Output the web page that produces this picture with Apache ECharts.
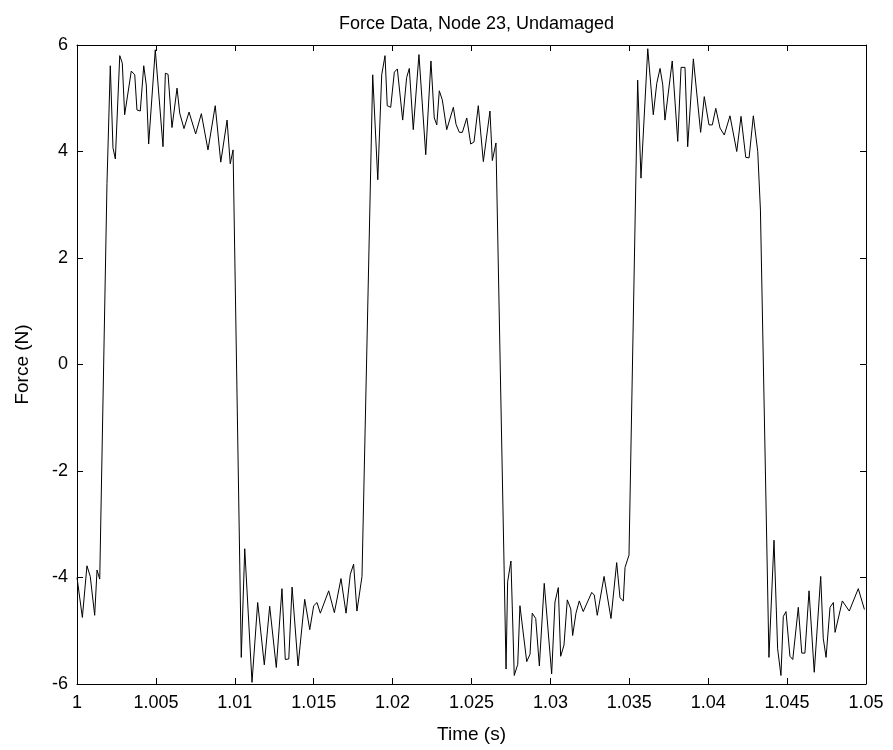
<!DOCTYPE html>
<html>
<head>
<meta charset="utf-8">
<script src="https://cdn.jsdelivr.net/npm/echarts@6/dist/echarts.min.js"></script>
<style>html,body{margin:0;padding:0;background:#fff}#c{width:893px;height:750px}</style>
</head>
<body>
<div id="c"></div>
<script>
const chartTitle = "Force Data, Node 23, Undamaged";
const xName = "Time (s)";
const yName = "Force (N)";
const xTicks = [1, 1.005, 1.01, 1.015, 1.02, 1.025, 1.03, 1.035, 1.04, 1.045, 1.05];
const yTicks = [-6, -4, -2, 0, 2, 4, 6];

// vertex times (s) and forces (N)
const times = [
  1.00000, 1.00034, 1.00063, 1.00084, 1.00112, 1.00127, 1.00144, 1.00190, 1.00211,
  1.00228, 1.00243, 1.00271, 1.00287, 1.00302, 1.00344, 1.00366, 1.00380, 1.00401, 1.00423,
  1.00439, 1.00454, 1.00496, 1.00545, 1.00560, 1.00577, 1.00602, 1.00634, 1.00651, 1.00678,
  1.00710, 1.00752, 1.00788, 1.00830, 1.00876, 1.00911, 1.00951, 1.00971, 1.00989,
  1.01041, 1.01063, 1.01109, 1.01145, 1.01187, 1.01221, 1.01263, 1.01299, 1.01320, 1.01342,
  1.01363, 1.01401, 1.01443, 1.01475, 1.01500, 1.01521, 1.01542, 1.01595, 1.01631, 1.01673,
  1.01705, 1.01732, 1.01753, 1.01774, 1.01806,
  1.01874, 1.01906, 1.01931, 1.01952, 1.01966, 1.01988, 1.02011, 1.02030, 1.02064, 1.02089,
  1.02106, 1.02131, 1.02167, 1.02210, 1.02243, 1.02264, 1.02280, 1.02296, 1.02315, 1.02343,
  1.02385, 1.02402, 1.02423, 1.02442, 1.02470, 1.02495, 1.02516, 1.02543, 1.02575, 1.02617,
  1.02632, 1.02655,
  1.02719, 1.02729, 1.02750, 1.02771, 1.02793, 1.02807, 1.02850, 1.02871, 1.02885, 1.02907,
  1.02930, 1.02961, 1.03008, 1.03029, 1.03050, 1.03065, 1.03086, 1.03107, 1.03129, 1.03141,
  1.03162, 1.03183, 1.03208, 1.03262, 1.03278, 1.03297, 1.03340, 1.03384, 1.03420, 1.03441,
  1.03462, 1.03473, 1.03498,
  1.03553, 1.03574, 1.03617, 1.03652, 1.03674, 1.03695, 1.03712, 1.03726, 1.03772, 1.03807,
  1.03828, 1.03853, 1.03870, 1.03906, 1.03952, 1.03975, 1.04005, 1.04026, 1.04048, 1.04075,
  1.04102, 1.04138, 1.04181, 1.04208, 1.04238, 1.04259, 1.04286, 1.04314, 1.04331,
  1.04385, 1.04417, 1.04440, 1.04461, 1.04476, 1.04493, 1.04518, 1.04536, 1.04571, 1.04593,
  1.04613, 1.04639, 1.04672, 1.04713, 1.04729, 1.04747, 1.04772, 1.04793, 1.04804, 1.04850,
  1.04894, 1.04951, 1.04990
];
const forces = [
  -4.00, -4.75, -3.78, -3.98, -4.71, -3.86, -4.03, 3.40, 5.61,
  4.07, 3.86, 5.80, 5.66, 4.69, 5.51, 5.44, 4.78, 4.76, 5.61,
  5.25, 4.14, 5.91, 4.09, 5.47, 5.45, 4.45, 5.19, 4.72, 4.43,
  4.74, 4.33, 4.71, 4.03, 4.86, 3.80, 4.59, 3.77, 4.03,
  -5.50, -3.46, -5.97, -4.47, -5.64, -4.54, -5.69, -4.21, -5.54, -5.53,
  -4.18, -5.66, -4.41, -4.98, -4.53, -4.47, -4.67, -4.25, -4.66, -4.02,
  -4.67, -3.94, -3.75, -4.63, -3.98,
  5.44, 3.47, 5.44, 5.80, 4.86, 4.83, 5.49, 5.55, 4.59, 5.39,
  5.56, 4.41, 5.82, 3.94, 5.70, 4.63, 4.50, 5.14, 4.97, 4.41,
  4.83, 4.51, 4.36, 4.36, 4.63, 4.14, 4.18, 4.86, 3.81, 4.76,
  3.83, 4.16,
  -5.72, -4.08, -3.69, -5.84, -5.63, -4.53, -5.58, -5.44, -4.67, -4.77,
  -5.66, -4.11, -5.81, -4.46, -4.19, -5.48, -5.27, -4.42, -4.59, -5.09,
  -4.67, -4.44, -4.64, -4.28, -4.33, -4.71, -3.98, -4.77, -3.72, -4.38,
  -4.44, -3.81, -3.58,
  5.34, 3.50, 5.93, 4.69, 5.28, 5.56, 5.25, 4.59, 5.70, 4.19,
  5.58, 5.58, 4.09, 5.74, 4.36, 5.03, 4.50, 4.50, 4.81, 4.44,
  4.31, 4.67, 4.00, 4.66, 3.89, 3.88, 4.67, 4.00, 2.90,
  -5.50, -3.30, -5.34, -5.84, -4.73, -4.64, -5.48, -5.54, -4.56, -5.42,
  -5.42, -4.25, -5.78, -3.98, -5.14, -5.50, -4.56, -4.47, -5.03, -4.44,
  -4.63, -4.21, -4.60
];

const FONT = "'Liberation Sans', Arial, sans-serif";
const chart = echarts.init(document.getElementById('c'), null, {renderer: 'canvas'});
const fmtX = v => String(parseFloat(v.toFixed(3)));
const common = {
  axisLine: {show: true, onZero: false, lineStyle: {color: '#000', width: 1}},
  axisTick: {show: true, inside: true, length: 6, lineStyle: {color: '#000', width: 1}},
  splitLine: {show: false}
};
chart.setOption({
  animation: false,
  backgroundColor: '#fff',
  title: {
    text: chartTitle, left: 471.5, top: 10, textAlign: 'center',
    textStyle: {fontFamily: FONT, fontSize: 18, fontWeight: 'normal', color: '#000'}
  },
  grid: {left: 77, right: 27, top: 45, bottom: 66, containLabel: false},
  xAxis: [
    Object.assign({
      type: 'value', min: xTicks[0], max: xTicks[xTicks.length - 1], interval: 0.005,
      position: 'bottom',
      name: xName, nameLocation: 'middle', nameGap: 41,
      nameTextStyle: {fontFamily: FONT, fontSize: 19, color: '#000'},
      axisLabel: {formatter: fmtX, fontFamily: FONT, fontSize: 18, color: '#000', margin: 10}
    }, common),
    Object.assign({
      type: 'value', min: xTicks[0], max: xTicks[xTicks.length - 1], interval: 0.005,
      position: 'top', axisLabel: {show: false}
    }, common)
  ],
  yAxis: [
    Object.assign({
      type: 'value', min: yTicks[0], max: yTicks[yTicks.length - 1], interval: 2,
      position: 'left',
      name: yName, nameLocation: 'middle', nameGap: 45,
      nameTextStyle: {fontFamily: FONT, fontSize: 19, color: '#000'},
      axisLabel: {fontFamily: FONT, fontSize: 18, color: '#000', margin: 9}
    }, common),
    Object.assign({
      type: 'value', min: yTicks[0], max: yTicks[yTicks.length - 1], interval: 2,
      position: 'right', axisLabel: {show: false}
    }, common)
  ],
  series: [{
    type: 'line',
    xAxisIndex: 0, yAxisIndex: 0,
    data: times.map((t, i) => [t, forces[i]]),
    showSymbol: false, symbol: 'none',
    lineStyle: {color: '#000', width: 1},
    clip: true
  }]
});
</script>
</body>
</html>
